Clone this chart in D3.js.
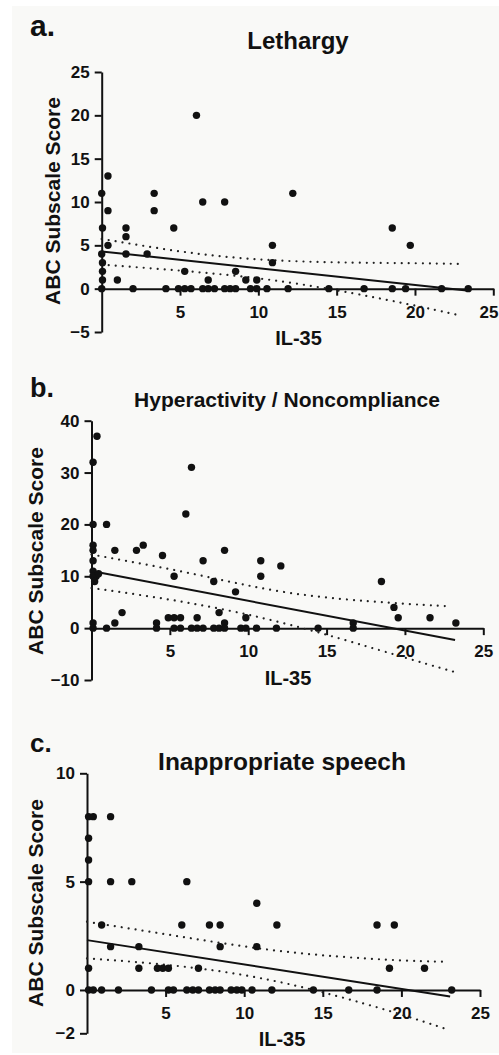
<!DOCTYPE html>
<html><head><meta charset="utf-8">
<script src="https://cdn.jsdelivr.net/npm/d3@7"></script>
<style>
body{margin:0;background:#fff}
svg{display:block}
text{font-family:"Liberation Sans",Arial,sans-serif;font-weight:bold;fill:#111}
</style>
</head><body><svg id="c" width="499" height="1055"></svg>
<script>
// ---------- data ----------
const xTicks = [5, 10, 15, 20, 25];

// a. Lethargy
const lethTicksY = [-5, 0, 5, 10, 15, 20, 25];
const lethX = [0,0.05,0,0.05,0.05,0.05,0,0.4,0.4,0.4,1.0,1.55,1.55,1.55,2.0,2.9,3.35,3.35,4.1,4.6,4.9,5.3,5.3,5.7,6.05,6.45,6.45,6.8,6.8,7.2,7.85,7.85,8.2,8.55,8.55,9.2,9.5,9.9,9.9,10.55,10.9,10.9,11.9,12.2,14.5,16.75,18.55,18.55,19.4,19.7,21.7,23.4];
const lethY = [11,7,4,3,2,1,0,13,9,5,1,7,6,4,0,4,11,9,0,7,0,2,0,0,20,10,0,1,0,0,10,0,0,2,0,1,0,1,0,0,5,3,0,11,0,0,7,0,0,5,0,0];
const lethFitX = [0, 23.3], lethFitY = [4.3, -0.2];
const lethUpX = [0, 6.3, 12.6, 19.0, 23.1], lethUpY = [5.75, 4.0, 3.15, 2.95, 2.85];
const lethLoX = [0, 6.3, 12.6, 19.0, 22.9], lethLoY = [2.77, 1.88, 0.54, -1.58, -3.1];

// b. Hyperactivity / Noncompliance
const hypTicksY = [-10, 0, 10, 20, 30, 40];
const hypX = [0.35,0.1,0.1,0.1,0.1,0.1,0.1,0.3,0.1,0.2,0.45,0.1,0.1,0.96,0.96,1.49,1.49,1.95,2.87,3.3,4.15,4.15,4.53,4.9,5.27,5.27,5.27,5.68,5.68,6.02,6.38,6.38,6.74,6.74,7.12,7.12,7.8,7.8,8.14,8.14,8.49,8.49,8.49,9.19,9.53,9.85,9.85,10.53,10.8,10.8,11.8,12.08,14.46,16.7,16.7,18.5,19.3,19.57,21.6,23.25];
const hypY = [37,32,20,16,15,13,11,10,10,9,10.5,1,0,20,0,15,1,3,15,16,1,0,14,2,10,2,0,2,0,22,31,0,2,0,13,0,9,0,3,0,15,1,0,7,0,2,0,0,13,10,0,12,0,1,0,9,4,2,2,1];
const hypFitX = [0, 23.2], hypFitY = [11.0, -2.3];
const hypUpX = [0, 6.27, 12.66, 19.0, 22.9], hypUpY = [14.2, 10.6, 6.8, 4.9, 4.2];
const hypLoX = [0, 6.27, 12.66, 19.0, 23.1], hypLoY = [7.74, 4.84, 0.64, -4.8, -8.4];

// c. Inappropriate speech
const spTicksY = [-2, 0, 5, 10];
const spX = [0.1,0.4,0.1,0.1,0.1,0.1,0.1,0.4,0.93,0.93,1.5,1.5,1.5,2.0,2.85,3.3,3.3,4.1,4.48,4.82,5.18,5.18,5.5,6.03,6.35,6.35,6.73,7.09,7.09,7.79,7.79,8.15,8.47,8.47,8.47,9.17,9.53,9.85,10.5,10.8,10.8,11.76,12.08,14.4,16.65,18.45,18.45,19.24,19.55,21.47,23.2];
const spY = [8,8,7,6,5,1,0,0,3,0,8,5,2,0,5,2,1,0,1,1,1,0,0,3,5,0,0,1,0,3,0,0,3,2,0,0,0,0,0,4,2,0,3,0,0,3,0,1,3,1,0];
const spFitX = [0, 23.1], spFitY = [2.3, -0.3];
const spUpX = [0, 6.24, 12.6, 19.0, 22.9], spUpY = [3.15, 2.43, 1.77, 1.4, 1.3];
const spLoX = [0, 6.24, 12.6, 19.0, 23.0], spLoY = [1.46, 1.07, 0.31, -0.92, -1.84];

// ---------- drawing ----------
const svg = d3.select("#c");
svg.append("rect").attr("x", 12).attr("y", 6).attr("width", 487).attr("height", 1047).attr("fill", "#f9f9f7");

const zip = (a, b) => a.map((v, i) => [v, b[i]]);

function panel(o) {
  const x = d3.scaleLinear().domain([0, 25]).range([o.x0, o.x1]);
  const y = d3.scaleLinear().domain(o.yDomain).range([o.yB, o.yT]);
  const g = svg.append("g");

  const ya = g.append("g").attr("transform", `translate(${o.x0},0)`)
    .call(d3.axisLeft(y).tickValues(o.yTicks).tickSize(7).tickPadding(5).tickSizeOuter(0));
  const xa = g.append("g").attr("transform", `translate(0,${y(0)})`)
    .call(d3.axisBottom(x).tickValues(xTicks).tickSize(7).tickPadding(10).tickSizeOuter(0));
  [ya, xa].forEach(a => {
    a.select(".domain").attr("stroke", "#111").attr("stroke-width", 2);
    a.selectAll(".tick line").attr("stroke", "#111").attr("stroke-width", 2);
    a.selectAll(".tick text").attr("font-size", 17).attr("fill", "#111");
  });
  // keep the last x tick label inside the page
  xa.selectAll(".tick text").each(function(d) {
    const bb = this.getBBox();
    const tx = x(d);
    const over = tx + bb.x + bb.width - 498;
    if (over > 0) d3.select(this).attr("dx", -over);
  });

  const line = d3.line().x(d => x(d[0])).y(d => y(d[1]));
  const curve = d3.line().x(d => x(d[0])).y(d => y(d[1])).curve(d3.curveNatural);

  g.append("path").attr("d", line(zip(o.fitX, o.fitY))).attr("fill", "none")
    .attr("stroke", "#111").attr("stroke-width", 2);
  [[o.upX, o.upY], [o.loX, o.loY]].forEach(([cx, cy]) => {
    g.append("path").attr("d", curve(zip(cx, cy))).attr("fill", "none")
      .attr("stroke", "#222").attr("stroke-width", 2.2)
      .attr("stroke-linecap", "round").attr("stroke-dasharray", "0.01,7");
  });

  g.selectAll("circle.pt").data(zip(o.px, o.py)).join("circle")
    .attr("cx", d => x(d[0])).attr("cy", d => y(d[1])).attr("r", 3.7).attr("fill", "#111");

  g.append("text").text(o.letter).attr("x", 30).attr("y", o.letterY).attr("font-size", o.letterSize);
  g.append("text").text(o.title).attr("x", o.titleX).attr("y", o.titleY)
    .attr("text-anchor", "middle").attr("font-size", o.titleSize);
  g.append("text").text("ABC Subscale Score").attr("text-anchor", "middle").attr("font-size", 21)
    .attr("transform", `translate(${o.ylX},${o.ylY}) rotate(-90)`);
  g.append("text").text("IL-35").attr("x", o.xlX).attr("y", o.xlY)
    .attr("text-anchor", "middle").attr("font-size", 20);
}

panel({x0: 101.7, x1: 493.3, yDomain: [-5, 25], yB: 332, yT: 72, yTicks: lethTicksY,
  px: lethX, py: lethY, fitX: lethFitX, fitY: lethFitY, upX: lethUpX, upY: lethUpY, loX: lethLoX, loY: lethLoY,
  letter: "a.", letterY: 36, letterSize: 30, title: "Lethargy", titleX: 298, titleY: 49, titleSize: 24,
  ylX: 60, ylY: 201, xlX: 298.5, xlY: 345});

panel({x0: 91.5, x1: 483.3, yDomain: [-10, 40], yB: 680, yT: 420.7, yTicks: hypTicksY,
  px: hypX, py: hypY, fitX: hypFitX, fitY: hypFitY, upX: hypUpX, upY: hypUpY, loX: hypLoX, loY: hypLoY,
  letter: "b.", letterY: 397, letterSize: 27, title: "Hyperactivity / Noncompliance", titleX: 287, titleY: 407, titleSize: 21,
  ylX: 43, ylY: 551, xlX: 288, xlY: 685});

panel({x0: 87, x1: 480, yDomain: [-2, 10], yB: 1033.3, yT: 773.3, yTicks: spTicksY,
  px: spX, py: spY, fitX: spFitX, fitY: spFitY, upX: spUpX, upY: spUpY, loX: spLoX, loY: spLoY,
  letter: "c.", letterY: 752, letterSize: 26, title: "Inappropriate speech", titleX: 282, titleY: 770, titleSize: 24.5,
  ylX: 43, ylY: 903, xlX: 282, xlY: 1046});
</script>
</body></html>
